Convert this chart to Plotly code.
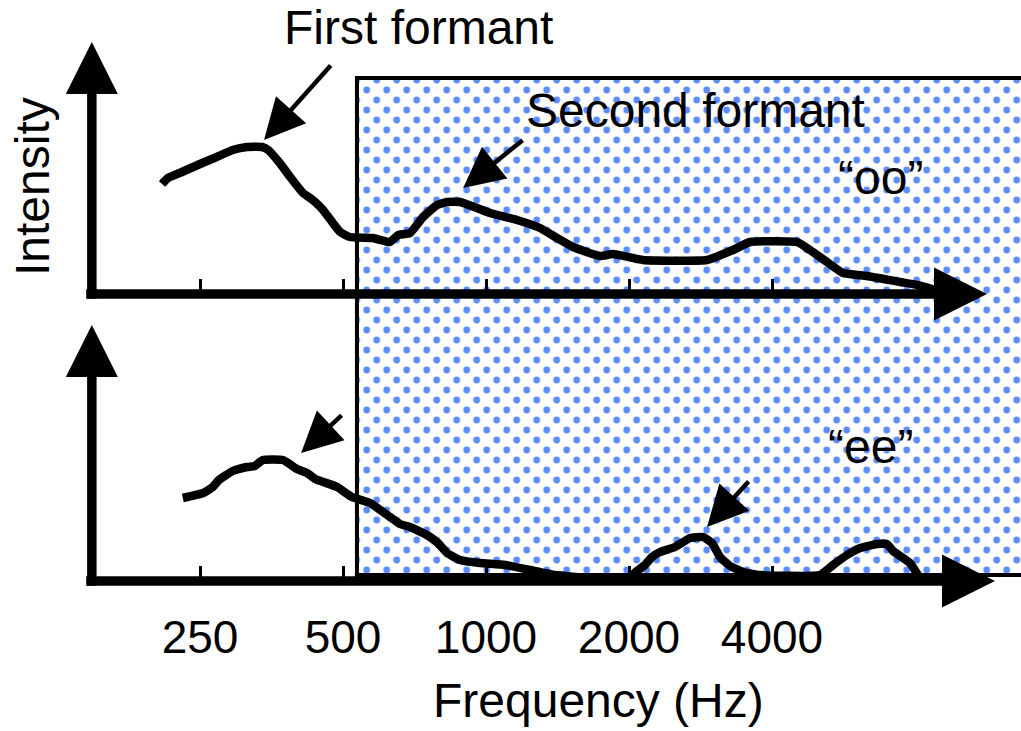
import math
import plotly.graph_objects as go

W, H = 1021, 731

# ---------------- data ----------------
# Spectrum of the vowel "oo" (upper panel): frequency (Hz) and relative intensity
OO_FREQ_HZ = [208, 214, 229, 250, 271, 293, 314, 338, 348, 368,
              387, 412, 432, 454, 476, 493, 517, 578, 628, 653,
              692, 737, 789, 828, 882, 957, 1020, 1162, 1299, 1411,
              1525, 1738, 1851, 2140, 2919, 3311, 3596, 4515, 4809, 5222,
              5644, 6339, 7440, 8078, 8815]
OO_INTENSITY = [22.0, 23.2, 24.4, 26.0, 27.4, 28.8, 29.4, 29.4, 28.8, 26.2,
                23.4, 20.2, 18.8, 16.8, 14.2, 12.4, 11.4, 11.2, 10.4, 11.8,
                12.2, 15.4, 17.8, 18.4, 18.4, 17.2, 16.2, 14.8, 13.2, 11.2,
                9.4, 7.6, 8.0, 6.8, 6.8, 8.8, 10.4, 10.4, 8.8, 6.4,
                4.2, 3.6, 2.4, 1.8, 0.8]

# Spectrum of the vowel "ee" (lower panel)
EE_FREQ_HZ = [230, 254, 266, 274, 293, 314, 326, 339, 374, 400,
              420, 437, 486, 522, 570, 628, 659, 692, 751, 792,
              828, 882, 971, 1097, 1238, 1397, 1656, 1990, 2079, 2161,
              2236, 2325, 2500, 2689, 2863, 2990, 3109, 3263, 3475, 3774,
              5048, 5377, 5754, 6129, 6655, 6984, 7191, 7807, 8117, 8275]
EE_INTENSITY = [16.6, 17.6, 18.8, 20.2, 22.0, 22.8, 23.0, 24.2, 24.2, 22.4,
                21.6, 20.4, 18.8, 16.8, 15.6, 12.8, 11.4, 10.8, 9.2, 7.6,
                5.6, 4.2, 3.6, 3.2, 2.2, 1.2, 0.6, 0.6, 2.0, 3.2,
                4.8, 5.8, 6.8, 8.6, 8.8, 7.6, 4.8, 3.0, 1.8, 1.2,
                1.2, 3.2, 5.2, 6.6, 7.4, 7.4, 6.0, 3.6, 1.2, 0.2]

TICK_HZ = [250, 500, 1000, 2000, 4000]
TICK_LABELS = ["250", "500", "1000", "2000", "4000"]

# formant arrow targets: (frequency Hz, intensity)
OO_FIRST_FORMANT = (341, 30.8)
OO_SECOND_FORMANT = (895, 21.2)
EE_FIRST_FORMANT = (408, 25.6)
EE_SECOND_FORMANT = (2919, 10.8)

# shaded band (frequency range shown in the dotted region)
SHADE_START_HZ = 535
SHADE_END_HZ = 30000

# ---------------- layout calibration ----------------
REF_HZ, REF_PX, PX_PER_OCT = 250, 200, 143      # horizontal scale (log)
TOP_BASE_PX, BOT_BASE_PX, PX_PER_UNIT = 294, 581, 5  # vertical scale
SHADE_TOP_PX, SHADE_BOTTOM_PX = 78, 575

FONT = "Liberation Sans, Arial, Helvetica, sans-serif"
DOT = "#5c8cff"
INK = "black"


def xr(px):
    return math.log10(REF_HZ) + (px - REF_PX) / PX_PER_OCT * math.log10(2)


def y_top(py):
    return (TOP_BASE_PX - py) / PX_PER_UNIT


def y_bot(py):
    return (BOT_BASE_PX - py) / PX_PER_UNIT


fig = go.Figure()

# ---- dotted shading: two staggered pattern layers ----
shade_top = y_top(SHADE_TOP_PX)
shade_bottom = y_top(SHADE_BOTTOM_PX)
PATTERN_ORIGINS = [(6.7, 10.0), (16.7, 0.0)]
layout_axes = {}
for i, (ox, oy) in enumerate(PATTERN_ORIGINS):
    n = "" if i == 0 else "2"
    fig.add_trace(go.Scatter(
        x=[SHADE_START_HZ, SHADE_END_HZ, SHADE_END_HZ, SHADE_START_HZ, SHADE_START_HZ],
        y=[shade_bottom, shade_bottom, shade_top, shade_top, shade_bottom],
        mode="lines", fill="toself", line=dict(width=0),
        fillcolor="rgba(0,0,0,0)",
        fillpattern=dict(shape=".", size=20, solidity=0.09, fgcolor=DOT,
                         bgcolor="rgba(0,0,0,0)", fgopacity=1),
        xaxis="x" + n, yaxis="y" + n, hoverinfo="skip", showlegend=False))
    layout_axes["xaxis" + n] = dict(type="log", domain=[ox / W, 1],
                                    range=[xr(ox), xr(W)], visible=False,
                                    anchor="y" + n)
    layout_axes["yaxis" + n] = dict(domain=[0, 1 - oy / H],
                                    range=[y_top(H), y_top(oy)], visible=False,
                                    anchor="x" + n)

# ---- border of shaded band ----
fig.add_trace(go.Scatter(
    x=[SHADE_END_HZ, SHADE_START_HZ, SHADE_START_HZ, SHADE_END_HZ],
    y=[shade_top, shade_top, shade_bottom, shade_bottom],
    mode="lines", line=dict(color=INK, width=4),
    xaxis="x3", yaxis="y3", hoverinfo="skip", showlegend=False))

# ---- hand-drawn axes with arrow heads ----
AXIS_START_HZ = 144
AXIS_Y_HZ = 148
AXIS_LINE_END_HZ = 10000
TOP_ARROW_HZ, BOT_ARROW_HZ = 11340, 11790
TOP_Y_TIP, BOT_Y_TIP = 50.4, 51.2

for xa, ya, tip_hz, tip_y in (("x3", "y3", TOP_ARROW_HZ, TOP_Y_TIP),
                              ("x4", "y4", BOT_ARROW_HZ, BOT_Y_TIP)):
    fig.add_trace(go.Scatter(x=[AXIS_START_HZ, AXIS_LINE_END_HZ], y=[0, 0],
                             mode="lines", line=dict(color=INK, width=9.5),
                             xaxis=xa, yaxis=ya, hoverinfo="skip", showlegend=False))
    fig.add_trace(go.Scatter(x=[AXIS_Y_HZ, AXIS_Y_HZ], y=[-0.95, tip_y - 6],
                             mode="lines", line=dict(color=INK, width=9.5),
                             xaxis=xa, yaxis=ya, hoverinfo="skip", showlegend=False))
    fig.add_trace(go.Scatter(x=[tip_hz], y=[0], mode="markers",
                             marker=dict(symbol="arrow-right", size=53, color=INK,
                                         line=dict(width=0)),
                             cliponaxis=False,
                             xaxis=xa, yaxis=ya, hoverinfo="skip", showlegend=False))
    fig.add_trace(go.Scatter(x=[AXIS_Y_HZ], y=[tip_y], mode="markers",
                             marker=dict(symbol="arrow-up", size=52, color=INK,
                                         line=dict(width=0)),
                             cliponaxis=False,
                             xaxis=xa, yaxis=ya, hoverinfo="skip", showlegend=False))

# ---- spectra ----
fig.add_trace(go.Scatter(x=OO_FREQ_HZ, y=OO_INTENSITY, mode="lines",
                         line=dict(color=INK, width=8.5, shape="spline", smoothing=0.4),
                         xaxis="x3", yaxis="y3", name="oo", showlegend=False))
fig.add_trace(go.Scatter(x=EE_FREQ_HZ, y=EE_INTENSITY, mode="lines",
                         line=dict(color=INK, width=8.5, shape="spline", smoothing=0.4),
                         xaxis="x4", yaxis="y4", name="ee", showlegend=False))

tick_common = dict(type="log", range=[xr(0), xr(W)], domain=[0, 1],
                   showgrid=False, zeroline=False, showline=False,
                   tickmode="array", tickvals=TICK_HZ, ticktext=TICK_LABELS,
                   ticks="inside", ticklen=15, tickwidth=3, tickcolor=INK,
                   anchor="free")

layout_axes["xaxis3"] = dict(tick_common, position=(H - TOP_BASE_PX) / H,
                             showticklabels=False)
layout_axes["xaxis4"] = dict(tick_common, position=(H - BOT_BASE_PX) / H,
                             overlaying="x3", showticklabels=True,
                             tickfont=dict(family=FONT, size=46, color=INK),
                             ticklabelstandoff=25)
layout_axes["yaxis3"] = dict(domain=[0, 1], range=[y_top(H), y_top(0)],
                             visible=False, anchor="x3")
layout_axes["yaxis4"] = dict(domain=[0, 1], range=[y_bot(H), y_bot(0)],
                             visible=False, anchor="x4", overlaying="y3")

# ---- annotations ----
annotations = []


def arrow(xa, ya, pt, ax, ay):
    annotations.append(dict(x=math.log10(pt[0]), y=pt[1], xref=xa, yref=ya,
                            text="", showarrow=True, arrowhead=2, arrowsize=1.8,
                            arrowwidth=4.5, arrowcolor=INK, ax=ax, ay=ay,
                            standoff=0))


arrow("x3", "y3", OO_FIRST_FORMANT, 68, -76)
arrow("x3", "y3", OO_SECOND_FORMANT, 61, -49)
arrow("x4", "y4", EE_FIRST_FORMANT, 42, -39)
arrow("x4", "y4", EE_SECOND_FORMANT, 43, -47)


def label(text, px, py, size=48, angle=0):
    annotations.append(dict(text=text, x=px / W, y=1 - py / H, xref="paper",
                            yref="paper", showarrow=False, xanchor="center",
                            yanchor="middle", textangle=angle,
                            font=dict(family=FONT, size=size, color=INK)))


label("First formant", 418, 27)
label("Second formant", 695, 110)
label("\u201coo\u201d", 880, 177)
label("\u201cee\u201d", 870, 447)
label("Intensity", 32, 187, angle=-90)
label("Frequency (Hz)", 598, 700)

fig.update_layout(
    width=W, height=H, autosize=False,
    margin=dict(l=0, r=0, t=0, b=0, pad=0),
    paper_bgcolor="white", plot_bgcolor="rgba(0,0,0,0)",
    showlegend=False, annotations=annotations, hovermode=False,
    **layout_axes,
)

fig.write_html("out.html",
               config={"displayModeBar": False, "staticPlot": True},
               post_script="document.body.style.margin='0';"
                           "document.body.style.overflow='hidden';")
